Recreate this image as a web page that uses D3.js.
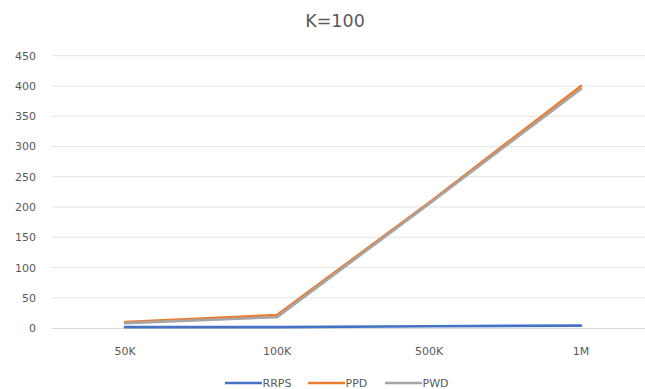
<!DOCTYPE html>
<html>
<head>
<meta charset="utf-8">
<script src="https://cdn.jsdelivr.net/npm/d3@7"></script>
<style>
  html, body { margin: 0; padding: 0; background: #fff; }
  svg { display: block; font-family: "DejaVu Sans", sans-serif; }
</style>
</head>
<body>
<svg id="chart" width="645" height="389"></svg>
<script>
// Categories and series values
const categories = ["50K", "100K", "500K", "1M"];
const rrps = [1.5, 1.5, 3, 4];
const ppd  = [10, 21.5, 207, 400];
const pwd  = [8, 18, 205, 395];
const yTicks = [0, 50, 100, 150, 200, 250, 300, 350, 400, 450];

const seriesNames = ["RRPS", "PPD", "PWD"];
const seriesColors = ["#4472C4", "#ED7D31", "#A5A5A5"];
const series = [rrps, ppd, pwd].map((vals, i) => ({
  name: seriesNames[i], color: seriesColors[i], values: vals
}));

const svg = d3.select("#chart");
const W = 645, H = 389;
const textColor = "#595959";

const x = d3.scaleBand().domain(categories).range([49, 657]);
const y = d3.scaleLinear().domain([0, 450]).range([328, 55.7]);

// Title
svg.append("text")
  .attr("x", 335).attr("y", 27)
  .attr("text-anchor", "middle")
  .attr("font-size", 17.5)
  .attr("fill", textColor)
  .text("K=100");

// Horizontal gridlines and y tick labels
const yAxis = d3.axisLeft(y).tickValues(yTicks).tickSize(0).tickPadding(0);
const gy = svg.append("g").attr("transform", "translate(36,0)").call(yAxis);
gy.select(".domain").remove();
gy.selectAll("text").attr("font-size", 11).attr("fill", textColor)
  .attr("font-family", "'DejaVu Sans', sans-serif");

svg.append("g").selectAll("line")
  .data(yTicks.filter(d => d > 0))
  .join("line")
  .attr("x1", 52).attr("x2", W)
  .attr("y1", d => y(d)).attr("y2", d => y(d))
  .attr("stroke", "#e3e3e3").attr("stroke-width", 1);

// Category axis line and labels
svg.append("line")
  .attr("x1", 52).attr("x2", W)
  .attr("y1", y(0) + 0.5).attr("y2", y(0) + 0.5)
  .attr("stroke", "#d9d9d9").attr("stroke-width", 1);

const xAxis = d3.axisBottom(x).tickSize(0).tickPadding(0);
const gx = svg.append("g").attr("transform", `translate(0,${y(0) + 19})`).call(xAxis);
gx.select(".domain").remove();
gx.selectAll("text").attr("font-size", 11).attr("fill", textColor)
  .attr("font-family", "'DejaVu Sans', sans-serif");

// Series lines
const line = d3.line()
  .x((d, i) => x(categories[i]) + x.bandwidth() / 2)
  .y(d => y(d));

svg.append("g").selectAll("path")
  .data(series)
  .join("path")
  .attr("d", d => line(d.values))
  .attr("fill", "none")
  .attr("stroke", d => d.color)
  .attr("stroke-width", 2.6)
  .attr("stroke-linejoin", "round")
  .attr("stroke-linecap", "round");

// Legend
const legendX = [225, 308, 385];
const lg = svg.append("g").selectAll("g")
  .data(series)
  .join("g")
  .attr("transform", (d, i) => `translate(${legendX[i]},383)`);
lg.append("line")
  .attr("x1", 0).attr("x2", 37)
  .attr("y1", 0).attr("y2", 0)
  .attr("stroke", d => d.color)
  .attr("stroke-width", 2.6);
lg.append("text")
  .attr("x", 37.5).attr("y", 4)
  .attr("font-size", 11)
  .attr("fill", textColor)
  .text(d => d.name);
</script>
</body>
</html>
